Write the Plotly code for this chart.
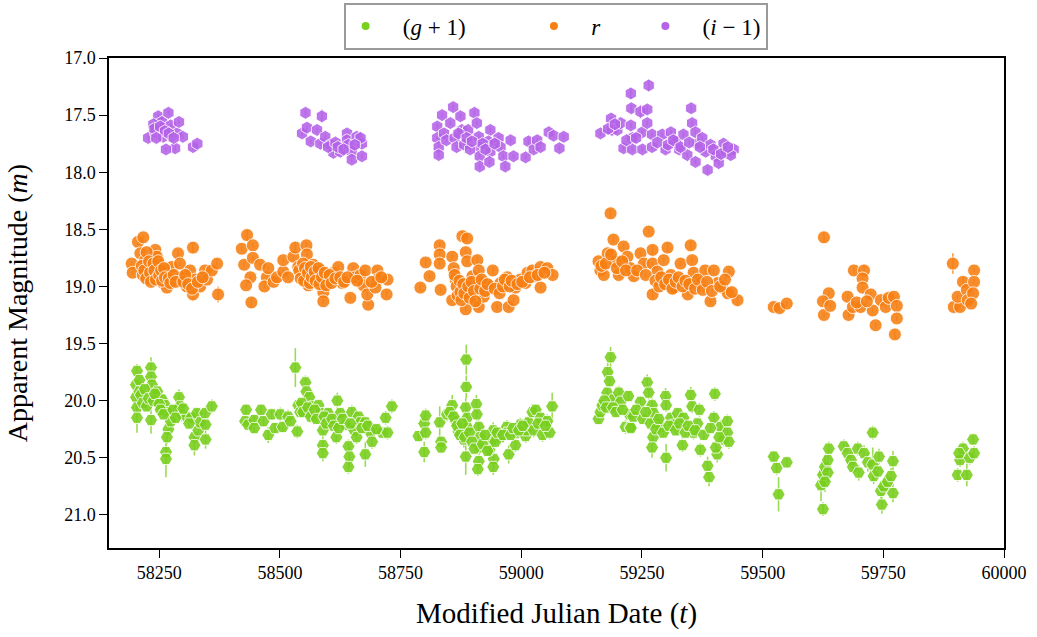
import plotly.graph_objects as go

# ---------------- data (MJD, magnitude, error) ----------------
g_s1 = [(58204,19.74,0.06),(58202,19.86,0.05),(58202,19.97,0.05),(58204,20.06,0.08),(58204,20.15,0.13),
        (58209,19.82,0.05),(58209,19.92,0.05),(58233,19.71,0.09),(58233,19.79,0.05),(58235,19.86,0.05),
        (58233,20.17,0.12),(58246,19.92,0.05),(58256,19.99,0.05),(58262,20.04,0.06),(58266,20.10,0.06),
        (58269,20.25,0.06),(58266,20.32,0.06),(58264,20.45,0.06),(58264,20.51,0.16),(58274,20.18,0.08),
        (58291,19.97,0.07),(58293,20.05,0.06),(58297,20.12,0.06),(58307,20.14,0.05),(58316,20.15,0.05),
        (58323,20.32,0.06),(58323,20.39,0.09),(58328,20.11,0.05),(58331,20.26,0.05),(58335,20.19,0.05),
        (58345,20.11,0.05),(58346,20.21,0.05),(58346,20.34,0.08),(58359,20.05,0.06),
        (58212,19.95,0.04),(58216,20.02,0.04),(58220,19.90,0.04),(58224,20.05,0.04),(58228,19.98,0.04),
        (58238,20.00,0.04),(58241,19.94,0.04),(58250,20.03,0.04),(58253,20.08,0.04),(58259,20.12,0.04),
        (58279,20.08,0.04),(58284,20.15,0.04),(58300,20.07,0.04),(58312,20.20,0.04)]
g_s2 = [(58430,20.08,0.05),(58428,20.18,0.05),(58434,20.21,0.05),(58447,20.17,0.05),(58447,20.24,0.05),
        (58461,20.08,0.05),(58466,20.18,0.05),(58476,20.30,0.07),(58483,20.12,0.05),(58490,20.24,0.05),
        (58501,20.12,0.06),(58506,20.23,0.05),(58517,20.14,0.06),(58522,20.18,0.05),(58532,19.71,0.17),
        (58536,20.27,0.06),(58538,20.04,0.05),(58542,20.10,0.05),(58553,19.84,0.06),(58555,19.92,0.05),
        (58561,19.97,0.05),(58567,20.05,0.05),(58569,20.14,0.05),(58580,20.04,0.05),(58584,20.11,0.05),
        (58589,20.26,0.06),(58589,20.39,0.07),(58589,20.46,0.07),(58600,20.11,0.05),(58604,20.18,0.05),
        (58617,20.32,0.06),(58619,20.00,0.07),(58625,20.11,0.05),(58636,20.21,0.05),(58642,20.40,0.06),
        (58644,20.49,0.09),(58642,20.58,0.06),(58649,20.10,0.06),(58654,20.26,0.06),(58659,20.32,0.06),
        (58663,20.14,0.05),(58667,20.19,0.05),(58677,20.47,0.11),(58677,20.19,0.05),(58688,20.28,0.05),
        (58691,20.36,0.06),(58712,20.28,0.05),(58719,20.15,0.06),(58723,20.28,0.06),(58732,20.05,0.06),
        (58545,20.02,0.04),(58548,20.10,0.04),(58558,20.06,0.04),(58564,20.14,0.04),(58572,20.08,0.04),
        (58576,20.16,0.04),(58592,20.14,0.04),(58596,20.20,0.04),(58608,20.16,0.04),(58612,20.22,0.04),
        (58622,20.24,0.04),(58630,20.16,0.04),(58646,20.20,0.04),(58670,20.24,0.04),(58682,20.22,0.04),
        (58700,20.25,0.04)]
g_s3 = [(58787,20.31,0.05),(58799,20.20,0.08),(58802,20.13,0.06),(58802,20.28,0.06),(58799,20.45,0.09),
        (58831,20.19,0.14),(58834,20.36,0.05),(58834,20.41,0.05),(58846,20.12,0.06),(58857,20.04,0.09),
        (58864,20.18,0.06),(58870,20.27,0.06),(58881,20.34,0.07),(58885,20.49,0.16),(58886,19.64,0.13),
        (58886,19.88,0.10),(58885,20.06,0.08),(58888,20.15,0.07),(58889,20.24,0.06),(58907,20.03,0.08),
        (58908,20.12,0.06),(58912,20.23,0.06),(58914,20.32,0.06),(58914,20.41,0.06),(58912,20.53,0.06),
        (58910,20.60,0.06),(58942,20.26,0.07),(58940,20.34,0.06),(58943,20.51,0.07),(58942,20.58,0.07),
        (58934,20.43,0.06),(58957,20.32,0.06),(58970,20.23,0.06),(58971,20.28,0.06),(58974,20.47,0.08),
        (58988,20.39,0.06),(58991,20.28,0.06),(58998,20.21,0.06),(59009,20.31,0.06),(59011,20.26,0.06),
        (59015,20.19,0.06),(59023,20.10,0.07),(59030,20.08,0.05),(59026,20.26,0.06),(59040,20.15,0.06),
        (59044,20.30,0.06),(59054,20.18,0.06),(59059,20.28,0.06),(59064,20.05,0.12),
        (58852,20.10,0.04),(58860,20.14,0.04),(58867,20.22,0.04),(58873,20.30,0.04),(58878,20.20,0.04),
        (58883,20.32,0.04),(58893,20.28,0.04),(58898,20.36,0.04),(58903,20.42,0.04),(58920,20.38,0.04),
        (58925,20.30,0.04),(58930,20.44,0.04),(58946,20.36,0.04),(58950,20.28,0.04),(58962,20.30,0.04),
        (58978,20.30,0.04),(58983,20.24,0.04),(58995,20.26,0.04),(59003,20.22,0.04),(59035,20.20,0.04),
        (59050,20.22,0.04)]
g_s4 = [(59160,20.16,0.05),(59164,20.10,0.05),(59168,20.04,0.05),(59178,19.93,0.05),(59179,19.75,0.08),
        (59185,19.62,0.09),(59183,19.83,0.05),(59191,19.99,0.05),(59202,19.93,0.06),(59206,20.01,0.05),
        (59216,20.23,0.06),(59222,19.96,0.05),(59224,20.12,0.05),(59226,20.23,0.05),(59247,20.01,0.05),
        (59261,19.84,0.07),(59264,19.93,0.06),(59271,20.04,0.06),(59274,20.11,0.05),(59273,20.32,0.06),
        (59271,20.41,0.09),(59281,20.20,0.05),(59299,19.96,0.07),(59300,20.04,0.06),(59300,20.50,0.12),
        (59310,20.15,0.05),(59324,20.11,0.05),(59334,20.39,0.06),(59351,19.95,0.07),(59354,20.05,0.06),
        (59357,20.28,0.06),(59365,20.20,0.05),(59369,20.08,0.06),(59401,19.94,0.06),(59399,20.15,0.06),
        (59386,20.57,0.08),(59389,20.67,0.08),(59413,20.23,0.06),(59419,20.34,0.06),(59427,20.18,0.06),
        (59427,20.28,0.06),(59430,20.36,0.06),(59406,20.47,0.07),(59403,20.41,0.06),(59371,20.43,0.06),
        (59336,20.15,0.05),(59316,20.21,0.05),(59289,20.23,0.05),(59227,20.24,0.05),
        (59172,20.00,0.04),(59176,20.06,0.04),(59190,20.06,0.04),(59196,20.10,0.04),(59210,20.08,0.04),
        (59232,20.14,0.04),(59238,20.08,0.04),(59252,20.16,0.04),(59258,20.10,0.04),(59268,20.20,0.04),
        (59279,20.25,0.04),(59285,20.16,0.04),(59294,20.28,0.04),(59306,20.22,0.04),(59320,20.26,0.04),
        (59328,20.20,0.04),(59340,20.28,0.04),(59346,20.22,0.04),(59360,20.26,0.04),(59378,20.30,0.04),
        (59392,20.24,0.04),(59410,20.32,0.04)]
g_s5 = [(59523,20.49,0.05),(59529,20.59,0.06),(59533,20.82,0.15),(59550,20.54,0.05)]
g_s6 = [(59625,20.95,0.06),(59621,20.74,0.14),(59625,20.65,0.08),(59629,20.58,0.10),(59635,20.52,0.07),
        (59637,20.42,0.06),(59635,20.63,0.08),(59629,20.71,0.09),(59668,20.40,0.06),(59676,20.46,0.09),
        (59683,20.52,0.06),(59687,20.58,0.06),(59697,20.42,0.06),(59699,20.63,0.07),(59710,20.46,0.07),
        (59718,20.54,0.08),(59728,20.28,0.06),(59728,20.56,0.15),(59730,20.66,0.07),(59739,20.62,0.06),
        (59741,20.49,0.07),(59745,20.79,0.07),(59747,20.91,0.08),(59751,20.75,0.07),(59759,20.71,0.06),
        (59766,20.66,0.07),(59770,20.53,0.09),(59770,20.81,0.08)]
g_s7 = [(59904,20.65,0.06),(59923,20.65,0.10),(59909,20.52,0.06),(59915,20.42,0.06),(59929,20.50,0.06),
        (59938,20.46,0.06),(59936,20.34,0.05),(59907,20.46,0.06)]

r_s1 = [(58193,18.80,0.02),(58195,18.88,0.02),(58206,18.61,0.03),(58211,18.71,0.03),(58217,18.57,0.02),
        (58221,18.77,0.02),(58227,18.84,0.02),(58235,18.92,0.02),(58242,18.68,0.02),(58245,18.74,0.02),
        (58252,18.81,0.02),(58258,18.97,0.02),(58266,18.88,0.02),(58266,19.01,0.02),(58276,18.83,0.02),
        (58289,18.71,0.03),(58293,18.80,0.02),(58297,18.92,0.02),(58307,19.00,0.02),(58314,18.86,0.02),
        (58320,18.66,0.05),(58325,18.94,0.02),(58320,19.07,0.06),(58335,19.00,0.02),(58345,18.86,0.02),
        (58349,18.94,0.02),(58359,18.86,0.02),(58370,18.80,0.04),(58372,19.07,0.07),
        (58214,18.82,0.02),(58216,18.90,0.02),(58219,18.86,0.02),(58223,18.93,0.02),(58224,18.70,0.02),
        (58229,18.78,0.02),(58231,18.88,0.02),(58233,18.96,0.02),(58238,18.80,0.02),(58240,18.86,0.02),
        (58243,18.94,0.02),(58248,18.78,0.02),(58250,18.90,0.02),(58254,18.86,0.02),(58256,18.95,0.02),
        (58260,18.84,0.02),(58262,18.92,0.02),(58270,18.93,0.02),(58273,18.97,0.02),(58280,18.90,0.02),
        (58284,18.96,0.02),(58300,18.96,0.02),(58304,18.90,0.02),(58310,18.98,0.02),(58318,19.02,0.02),
        (58330,18.96,0.02),(58340,18.92,0.02)]
r_s2 = [(58421,18.67,0.02),(58432,18.55,0.05),(58444,18.64,0.02),(58426,18.81,0.02),(58444,18.75,0.02),
        (58439,18.92,0.02),(58430,18.99,0.02),(58441,19.14,0.04),(58459,18.81,0.02),(58473,18.92,0.02),
        (58468,19.00,0.02),(58476,18.84,0.02),(58487,18.96,0.02),(58494,18.92,0.02),(58507,18.87,0.02),
        (58507,18.77,0.02),(58517,18.92,0.02),(58528,18.74,0.02),(58532,18.66,0.05),(58538,18.83,0.02),
        (58546,18.90,0.02),(58555,18.64,0.03),(58556,18.72,0.02),(58559,18.99,0.03),(58569,18.81,0.02),
        (58577,18.90,0.02),(58584,18.86,0.02),(58590,19.05,0.02),(58590,19.13,0.02),(58600,18.94,0.02),
        (58611,18.88,0.03),(58621,18.83,0.02),(58629,18.97,0.02),(58646,19.10,0.02),(58652,18.84,0.02),
        (58656,18.92,0.02),(58667,18.90,0.02),(58673,18.99,0.02),(58677,18.86,0.02),(58683,19.16,0.02),
        (58681,19.07,0.02),(58702,18.86,0.02),(58702,18.94,0.02),(58698,19.01,0.02),(58723,18.94,0.02),
        (58721,19.07,0.03),
        (58540,18.86,0.02),(58543,18.93,0.02),(58548,18.80,0.02),(58550,18.95,0.02),(58552,18.84,0.02),
        (58558,18.88,0.02),(58562,18.97,0.02),(58564,18.83,0.02),(58566,18.92,0.02),(58572,18.87,0.02),
        (58574,18.95,0.02),(58580,18.84,0.02),(58582,18.98,0.02),(58587,18.92,0.02),(58593,18.88,0.02),
        (58596,18.99,0.02),(58603,18.90,0.02),(58607,18.97,0.02),(58615,18.93,0.02),(58625,18.92,0.02),
        (58633,18.96,0.02),(58640,18.92,0.02),(58660,18.95,0.02),(58690,18.96,0.02),(58710,18.92,0.02)]
r_s3 = [(58791,19.01,0.03),(58802,18.79,0.03),(58810,18.91,0.02),(58831,18.64,0.03),(58831,18.72,0.02),
        (58831,18.80,0.02),(58833,19.03,0.02),(58857,18.74,0.02),(58860,18.84,0.02),(58864,18.94,0.02),
        (58857,19.12,0.02),(58878,18.56,0.04),(58888,18.58,0.04),(58885,18.70,0.02),(58888,18.78,0.02),
        (58899,18.91,0.02),(58909,18.77,0.03),(58912,18.86,0.02),(58912,18.96,0.02),(58885,19.20,0.02),
        (58912,19.18,0.03),(58895,19.06,0.02),(58922,19.09,0.02),(58941,18.86,0.03),(58936,19.00,0.02),
        (58950,19.18,0.02),(58957,18.97,0.02),(58971,18.92,0.02),(58974,19.18,0.02),(58984,19.12,0.02),
        (58988,19.01,0.02),(58998,18.94,0.02),(59009,18.97,0.02),(59013,18.88,0.02),(59023,18.86,0.02),
        (59029,18.91,0.02),(59040,19.01,0.02),(59040,18.83,0.02),(59054,18.84,0.02),(59065,18.90,0.02),
        (58862,18.90,0.02),(58866,19.00,0.02),(58868,19.08,0.02),(58872,18.95,0.02),(58874,19.05,0.02),
        (58876,19.12,0.02),(58880,18.98,0.02),(58882,19.06,0.02),(58890,19.00,0.02),(58893,19.10,0.02),
        (58897,18.96,0.02),(58902,19.04,0.02),(58905,19.13,0.02),(58915,19.02,0.02),(58918,18.94,0.02),
        (58925,19.04,0.02),(58930,18.98,0.02),(58945,19.02,0.02),(58955,19.06,0.02),(58962,19.00,0.02),
        (58966,18.94,0.02),(58976,19.00,0.02),(58980,18.95,0.02),(58992,18.98,0.02),(59002,18.96,0.02),
        (59018,18.92,0.02),(59034,18.90,0.02),(59048,18.88,0.02)]
r_s4 = [(59185,18.36,0.04),(59264,18.52,0.02),(59164,18.86,0.02),(59160,18.78,0.02),(59171,18.90,0.02),
        (59179,18.71,0.02),(59191,18.59,0.03),(59195,18.78,0.02),(59202,18.90,0.02),(59212,18.65,0.02),
        (59220,18.74,0.02),(59226,18.84,0.02),(59233,18.91,0.02),(59247,18.71,0.02),(59254,18.80,0.02),
        (59272,18.68,0.04),(59272,18.80,0.02),(59272,19.07,0.04),(59282,18.87,0.02),(59303,18.66,0.04),
        (59295,18.77,0.02),(59310,18.90,0.02),(59316,19.01,0.02),(59330,18.80,0.02),(59345,19.07,0.02),
        (59351,18.64,0.04),(59354,18.77,0.02),(59357,18.88,0.02),(59371,18.97,0.02),(59381,18.86,0.02),
        (59392,19.13,0.02),(59399,18.86,0.02),(59407,18.97,0.02),(59417,19.01,0.02),(59430,18.87,0.02),
        (59428,19.06,0.02),(59448,19.12,0.06),
        (59166,18.82,0.02),(59175,18.80,0.02),(59186,18.72,0.02),(59198,18.84,0.02),(59209,18.78,0.02),
        (59217,18.86,0.02),(59240,18.86,0.02),(59258,18.90,0.02),(59278,18.95,0.02),(59286,19.00,0.02),
        (59290,18.92,0.02),(59298,18.98,0.02),(59306,18.94,0.02),(59313,19.02,0.02),(59320,18.96,0.02),
        (59326,18.92,0.02),(59334,19.00,0.02),(59340,18.95,0.02),(59348,18.98,0.02),(59360,19.02,0.02),
        (59366,18.94,0.02),(59376,19.03,0.02),(59385,18.96,0.02),(59395,19.04,0.02),(59412,19.00,0.02),
        (59422,18.94,0.02),(59436,19.05,0.02)]
r_s5 = [(59523,19.18,0.03),(59535,19.19,0.04),(59550,19.15,0.02)]
r_s6 = [(59627,18.57,0.05),(59637,19.06,0.02),(59625,19.13,0.03),(59627,19.25,0.02),(59640,19.17,0.02),
        (59676,19.09,0.02),(59678,19.25,0.02),(59689,18.86,0.03),(59710,18.86,0.05),(59707,18.93,0.02),
        (59687,19.18,0.02),(59707,19.01,0.02),(59703,19.18,0.02),(59724,19.07,0.02),(59728,19.21,0.02),
        (59734,19.34,0.02),(59745,19.12,0.02),(59755,19.18,0.02),(59761,19.10,0.02),(59772,19.09,0.02),
        (59778,19.17,0.02),(59778,19.28,0.02),(59774,19.42,0.04),(59695,19.14,0.02),(59716,19.13,0.02)]
r_s7 = [(59894,18.80,0.09),(59896,19.18,0.02),(59909,19.18,0.02),(59904,19.09,0.02),(59915,18.96,0.04),
        (59923,19.03,0.02),(59925,19.12,0.02),(59938,18.86,0.02),(59938,18.96,0.02),(59936,19.06,0.02),
        (59932,19.15,0.02)]

i_s1 = [(58227,17.70,0.02),(58242,17.65,0.02),(58248,17.51,0.02),(58256,17.56,0.02),(58269,17.48,0.02),
        (58258,17.69,0.02),(58274,17.59,0.02),(58276,17.68,0.02),(58287,17.66,0.02),(58291,17.56,0.02),
        (58299,17.69,0.02),(58283,17.79,0.02),(58264,17.80,0.02),(58320,17.78,0.02),(58329,17.75,0.02),
        (58238,17.58,0.02),(58240,17.62,0.02),(58252,17.60,0.02),(58262,17.64,0.02),(58270,17.66,0.02),
        (58280,17.70,0.02),(58244,17.70,0.02)]
i_s2 = [(58553,17.48,0.02),(58587,17.51,0.06),(58546,17.66,0.02),(58556,17.61,0.02),(58564,17.73,0.02),
        (58577,17.63,0.02),(58584,17.75,0.02),(58594,17.69,0.02),(58605,17.76,0.02),(58611,17.83,0.02),
        (58625,17.82,0.02),(58639,17.66,0.02),(58639,17.72,0.02),(58642,17.76,0.02),(58649,17.82,0.02),
        (58649,17.89,0.02),(58659,17.69,0.02),(58670,17.75,0.02),(58670,17.86,0.02),(58667,17.70,0.02),
        (58600,17.78,0.02),(58615,17.74,0.02),(58620,17.78,0.02),(58632,17.80,0.02),(58655,17.76,0.02)]
i_s3 = [(58836,17.50,0.02),(58826,17.60,0.02),(58826,17.70,0.02),(58829,17.78,0.02),(58829,17.85,0.02),
        (58853,17.57,0.02),(58859,17.43,0.02),(58874,17.51,0.02),(58877,17.63,0.02),(58890,17.63,0.02),
        (58903,17.48,0.02),(58908,17.57,0.02),(58912,17.69,0.02),(58914,17.78,0.02),(58914,17.86,0.02),
        (58914,17.95,0.02),(58936,17.63,0.02),(58932,17.73,0.02),(58936,17.82,0.02),(58934,17.91,0.02),
        (58953,17.70,0.02),(58957,17.78,0.02),(58963,17.86,0.02),(58967,17.95,0.02),(58978,17.72,0.02),
        (58984,17.86,0.02),(59009,17.87,0.02),(59015,17.73,0.03),(59026,17.80,0.02),(59033,17.72,0.02),
        (59040,17.78,0.02),(59057,17.65,0.02),(59067,17.68,0.02),(59079,17.79,0.02),(59088,17.69,0.02),
        (58840,17.66,0.02),(58845,17.72,0.02),(58862,17.70,0.02),(58866,17.78,0.02),(58870,17.66,0.02),
        (58882,17.76,0.02),(58887,17.70,0.02),(58894,17.80,0.02),(58898,17.73,0.02),(58920,17.75,0.02),
        (58926,17.80,0.02),(58945,17.75,0.02)]
i_s4 = [(59164,17.66,0.02),(59186,17.53,0.02),(59188,17.63,0.02),(59199,17.63,0.02),(59206,17.57,0.02),
        (59212,17.79,0.02),(59227,17.31,0.04),(59228,17.44,0.03),(59227,17.59,0.02),(59230,17.70,0.02),
        (59230,17.80,0.02),(59247,17.47,0.06),(59251,17.65,0.02),(59251,17.80,0.02),(59261,17.45,0.03),
        (59264,17.24,0.05),(59261,17.57,0.02),(59271,17.67,0.02),(59271,17.78,0.02),(59292,17.67,0.02),
        (59299,17.80,0.02),(59310,17.65,0.02),(59320,17.73,0.02),(59327,17.80,0.02),(59336,17.67,0.02),
        (59344,17.85,0.02),(59352,17.44,0.03),(59354,17.57,0.02),(59361,17.65,0.02),(59365,17.75,0.02),
        (59361,17.91,0.02),(59375,17.70,0.02),(59382,17.82,0.02),(59386,17.98,0.03),(59392,17.76,0.02),
        (59403,17.86,0.02),(59409,17.92,0.02),(59419,17.75,0.02),(59424,17.82,0.02),(59440,17.80,0.02),
        (59434,17.85,0.02),
        (59180,17.62,0.02),(59194,17.58,0.02),(59218,17.72,0.02),(59238,17.70,0.02),(59282,17.74,0.02),
        (59304,17.76,0.02),(59315,17.72,0.02),(59330,17.78,0.02),(59348,17.74,0.02),(59370,17.78,0.02),
        (59398,17.80,0.02),(59414,17.84,0.02),(59428,17.78,0.02)]

x_ticks = [58250, 58500, 58750, 59000, 59250, 59500, 59750, 60000]
y_ticks = [17.0, 17.5, 18.0, 18.5, 19.0, 19.5, 20.0, 20.5, 21.0]

bands = [
    ("(<i>g</i> + 1)", g_s1 + g_s2 + g_s3 + g_s4 + g_s5 + g_s6 + g_s7, "#78cf1c", "rgba(120,207,28,0.75)", "hexagon2"),
    ("<i>r</i>", r_s1 + r_s2 + r_s3 + r_s4 + r_s5 + r_s6 + r_s7, "#f77f12", "rgba(247,127,18,0.75)", "circle"),
    ("(<i>i</i> − 1)", i_s1 + i_s2 + i_s3 + i_s4, "#b462e8", "rgba(180,98,232,0.75)", "hexagon"),
]
legend_lead = "&nbsp;" * 3
legend_pad = ["&nbsp;" * 11, "&nbsp;" * 7, ""]

FONT = "Liberation Serif, Times New Roman, serif"
fig = go.Figure()
for (name, pts, col, ecol, sym) in bands:
    fig.add_trace(go.Scatter(
        x=[p[0] for p in pts], y=[p[1] for p in pts], mode="markers",
        error_y=dict(type="data", array=[p[2] for p in pts], visible=True,
                     color=ecol, thickness=1.6, width=0),
        marker=dict(symbol=sym, size=13, color=col, opacity=0.88,
                    line=dict(color="rgba(255,255,255,0.9)", width=1)),
        showlegend=False, name=name))
for (name, pts, col, ecol, sym), pad in zip(bands, legend_pad):
    fig.add_trace(go.Scatter(x=[None], y=[None], mode="markers", name=legend_lead + name + pad,
                             marker=dict(symbol="circle", size=8, color=col)))

fig.update_layout(
    width=1037, height=637,
    margin=dict(l=109, r=33, t=58, b=89, autoexpand=False),
    paper_bgcolor="white", plot_bgcolor="white",
    font=dict(family=FONT, color="black", size=18),
    legend=dict(orientation="h", x=0.499, xanchor="center", y=1.113, yanchor="top",
                bgcolor="white", bordercolor="#9a9a9a", borderwidth=2,
                font=dict(size=23, family=FONT), itemwidth=30),
    xaxis=dict(range=[58146, 60000], tickvals=x_ticks, tickformat="d",
               showline=True, mirror=True, linecolor="black", linewidth=1.5,
               ticks="outside", ticklen=8, tickwidth=1, tickcolor="black",
               showgrid=False, zeroline=False,
               title=dict(text="Modified Julian Date (<i>t</i>)", font=dict(size=29), standoff=20)),
    yaxis=dict(range=[21.29, 17.0], tickvals=y_ticks, tickformat=".1f",
               showline=True, mirror=True, linecolor="black", linewidth=1.5,
               ticks="outside", ticklen=8, tickwidth=1, tickcolor="black",
               showgrid=False, zeroline=False,
               title=dict(text="Apparent Magnitude (<i>m</i>)", font=dict(size=28), standoff=28)),
)
fig.write_html("out.html")
